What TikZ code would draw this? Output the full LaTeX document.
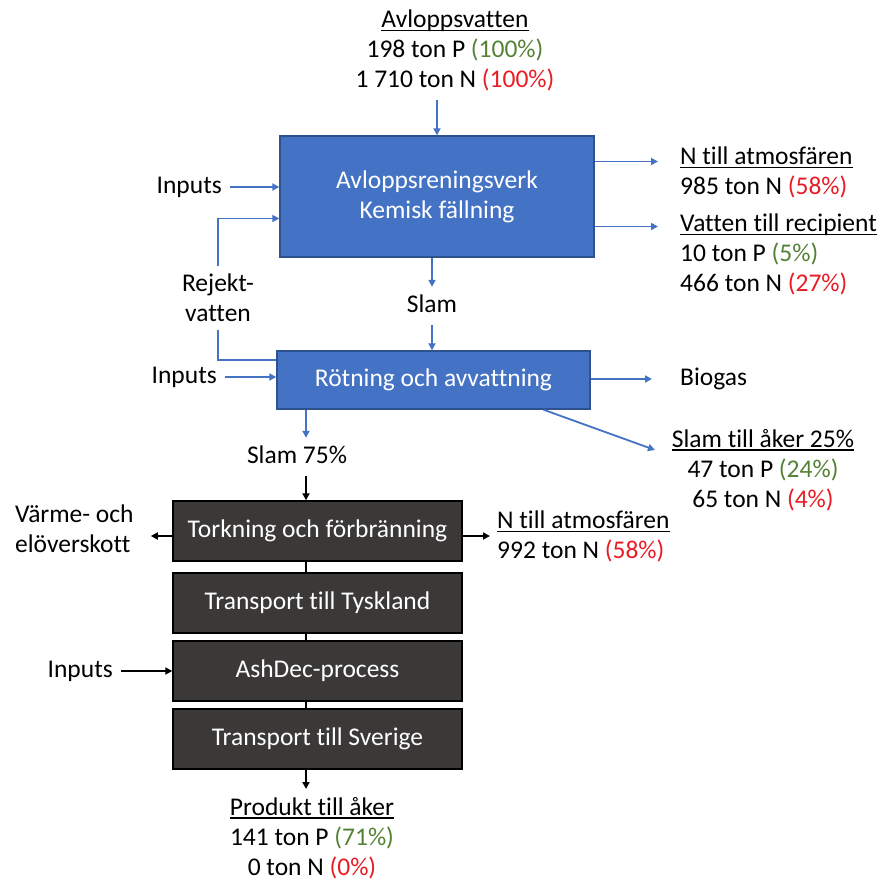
\documentclass[tikz,border=0pt]{standalone}
\usepackage{fontspec}
\setmainfont{Carlito}[Ligatures=NoCommon]
\usetikzlibrary{arrows.meta, positioning, calc}
\definecolor{FlowBlue}{RGB}{68,114,196}
\definecolor{FlowBlueDark}{RGB}{47,82,143}
\definecolor{StackGrey}{RGB}{59,56,56}
\definecolor{ShareP}{RGB}{84,130,53}
\definecolor{ShareN}{RGB}{232,28,36}
\newcommand{\ulin}[1]{\setbox0\hbox{#1}\rlap{\rule[-3.5pt]{\wd0}{1.3pt}}\box0}
\newcommand{\pshare}[1]{\textcolor{ShareP}{(#1\%)}}
\newcommand{\nshare}[1]{\textcolor{ShareN}{(#1\%)}}

\begin{document}
\begin{tikzpicture}[
    x=1pt,
    y=-1pt,
    font=\fontsize{25.5}{30}\selectfont,
    bluebox/.style={draw=FlowBlueDark, fill=FlowBlue, line width=1.4pt, text=white, align=center, minimum width=314pt, inner sep=0pt},
    darkbox/.style={draw=black, fill=StackGrey, line width=1.4pt, text=white, minimum width=289pt, minimum height=60pt, inner sep=0pt},
    tag/.style={inner xsep=8pt, inner ysep=8pt, text height=17pt, text depth=5pt},
    block/.style={inner xsep=0pt, inner ysep=8pt},
    bluearrow/.style={FlowBlue, line width=1.8pt, -{Triangle[length=7pt,width=7pt]}},
    blueline/.style={FlowBlue, line width=1.8pt},
    blackarrow/.style={black, line width=1.8pt, -{Triangle[length=7pt,width=7pt]}},
    blackline/.style={black, line width=1.8pt}
]
\useasboundingbox (0,0) rectangle (880,881);

% Process boxes
\node[bluebox, minimum height=121pt] (plant) at (437,196.5) {Avloppsreningsverk\\Kemisk fällning};
\node[bluebox, minimum width=313pt, minimum height=58pt] (digest) at (433.5,380) {Rötning och avvattning};

\foreach \n/\y/\txt in {1/531/Torkning och förbränning, 2/603/Transport till Tyskland,
                        3/671/AshDec-process, 4/739/Transport till Sverige}{
  \node[darkbox] (stack\n) at (317.5,\y) {\txt};
}
\coordinate (spine) at (306,0);

% Flows in and out of the plant
\node[block, anchor=north, align=center] (sewage) at (455,2)
  {\ulin{Avloppsvatten}\\198 ton P \pshare{100}\\1 710 ton N \nshare{100}};
\draw[bluearrow] (sewage.south -| plant.north) -- (plant.north);

\node[block, anchor=north west, align=left, inner xsep=22pt] (airA) at (658,139)
  {\ulin{N till atmosfären}\\985 ton N \nshare{58}};
\node[block, anchor=north west, align=left, inner xsep=22pt] (recip) at (658,206)
  {\ulin{Vatten till recipient}\\10 ton P \pshare{5}\\466 ton N \nshare{27}};
\draw[bluearrow] ([yshift=35pt]plant.east) -- ([yshift=35pt]plant.east -| airA.west);
\draw[bluearrow] ([yshift=-30pt]plant.east) -- ([yshift=-30pt]plant.east -| recip.west);

\node[tag, anchor=base east] (inA) at (230,193) {Inputs};
\draw[bluearrow] (inA.east) -- (inA.east -| plant.west);

% Sludge to digestion and reject water back
\node[tag, anchor=base] (sludge) at (432,312) {Slam};
\draw[bluearrow] (sludge.north |- plant.south) -- (sludge.north);
\draw[bluearrow] (sludge.south) -- (sludge.south |- digest.north);

\node[block, anchor=north, align=center] (reject) at (218,266) {Rejekt-\\vatten};
\draw[blueline] ([yshift=-10pt]digest.north west) -| (reject.south);
\draw[bluearrow] (reject.north) |- ([yshift=-22pt]plant.west);

\node[tag, anchor=base east] (inB) at (225,383) {Inputs};
\draw[bluearrow] (inB.east) -- (inB.east -| digest.west);

% Digestion outputs
\node[tag, anchor=base west, inner xsep=28pt] (biogas) at (652,385) {Biogas};
\draw[bluearrow] (biogas.west -| digest.east) -- (biogas.west);

\node[block, anchor=north, align=center] (field) at (763,421)
  {\ulin{Slam till åker 25\%}\\47 ton P \pshare{24}\\65 ton N \nshare{4}};
\coordinate (fieldIn) at (655,450);
\draw[bluearrow] ([xshift=110pt]digest.south) -- (fieldIn);

\node[tag, anchor=base] (rest) at (297,463) {Slam 75\%};
\draw[bluearrow] (digest.south -| spine) -- (rest.north -| spine);
\draw[blackarrow] (rest.south -| spine) -- (stack1.north -| spine);

% Incineration and ash treatment
\node[block, anchor=north west, align=left, inner xsep=17pt] (heat) at (-2,497)
  {Värme- och\\elöverskott};
\draw[blackarrow] ([yshift=-5pt]stack1.west) -- ([yshift=-5pt]stack1.west -| heat.east);

\node[block, anchor=north west, align=left, inner xsep=7pt] (airB) at (490,503)
  {\ulin{N till atmosfären}\\992 ton N \nshare{58}};
\draw[blackarrow] ([yshift=-5pt]stack1.east) -- ([yshift=-5pt]stack1.east -| airB.west);

\foreach \a/\b in {1/2,2/3,3/4}{
  \draw[blackline] (stack\a.south -| spine) -- (stack\b.north -| spine);
}

\node[tag, anchor=base east] (inC) at (121,677) {Inputs};
\draw[blackarrow] (inC.east) -- (inC.east -| stack3.west);

% Final product
\node[block, anchor=north, align=center] (product) at (312,789)
  {\ulin{Produkt till åker}\\141 ton P \pshare{71}\\0 ton N \nshare{0}};
\draw[blackarrow] (stack4.south -| spine) -- (product.north -| spine);

\end{tikzpicture}
\end{document}
